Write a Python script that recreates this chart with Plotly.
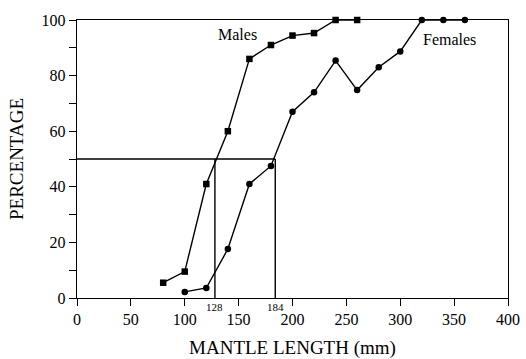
import plotly.graph_objects as go

# Data
males_x = [80, 100, 120, 140, 160, 180, 200, 220, 240, 260]
males_y = [5.5, 9.5, 41, 60, 86, 91, 94.4, 95.3, 100, 100]
females_x = [100, 120, 140, 160, 180, 200, 220, 240, 260, 280, 300, 320, 340, 360]
females_y = [2.2, 3.6, 17.6, 41, 47.5, 67, 74, 85.4, 74.8, 83, 88.7, 100, 100, 100]
half_level = 50
male_l50 = 128
female_l50 = 184
x_ticks = [0, 50, 100, 150, 200, 250, 300, 350, 400]
y_ticks = [0, 20, 40, 60, 80, 100]

font = "Liberation Serif"
fig = go.Figure()
fig.add_trace(go.Scatter(x=males_x, y=males_y, mode="lines+markers",
                         line=dict(color="black", width=1.4),
                         marker=dict(symbol="square", size=6.5, color="black"),
                         cliponaxis=False, showlegend=False))
fig.add_trace(go.Scatter(x=females_x, y=females_y, mode="lines+markers",
                         line=dict(color="black", width=1.4),
                         marker=dict(symbol="circle", size=6.5, color="black"),
                         cliponaxis=False, showlegend=False))

# 50% reference lines
fig.add_shape(type="line", x0=0, x1=female_l50, y0=half_level, y1=half_level,
              xref="x", yref="y", line=dict(color="black", width=1.4))
for v in (male_l50, female_l50):
    fig.add_shape(type="line", x0=v, x1=v, y0=0, y1=half_level,
                  xref="x", yref="y", line=dict(color="black", width=1.4))
    fig.add_annotation(x=v, y=0, xref="x", yref="y", text=str(v), showarrow=False,
                       yanchor="top", yshift=-1, font=dict(family=font, size=11, color="black"))

fig.add_annotation(x=149, y=94.7, xref="x", yref="y", text="Males", showarrow=False,
                   font=dict(family=font, size=16, color="black"))
fig.add_annotation(x=319, y=93, xref="x", yref="y", text="Females", showarrow=False,
                   xanchor="left", font=dict(family=font, size=16, color="black"))

fig.update_layout(
    width=526, height=359,
    margin=dict(l=77, r=18, t=20, b=61),
    plot_bgcolor="white", paper_bgcolor="white",
    font=dict(family=font, color="black", size=16),
)
fig.update_xaxes(range=[0, 400], tickvals=x_ticks, ticks="outside", ticklen=7,
                 tickwidth=1.2, tickcolor="black", showline=True, linecolor="black",
                 linewidth=1.4, mirror=True, showgrid=False, zeroline=False, automargin=False,
                 tickfont=dict(family=font, size=16),
                 title=dict(text="MANTLE LENGTH (mm)", font=dict(family=font, size=19), standoff=14))
fig.update_yaxes(range=[0, 100], tickvals=y_ticks, ticks="outside", ticklen=7,
                 tickwidth=1.2, tickcolor="black", showline=True, linecolor="black",
                 linewidth=1.4, mirror=True, showgrid=False, zeroline=False, automargin=False,
                 minor=dict(dtick=10, ticks="outside", ticklen=7, tickcolor="black", tickwidth=1.2, showgrid=False),
                 tickfont=dict(family=font, size=16),
                 title=dict(text="PERCENTAGE", font=dict(family=font, size=19), standoff=12))

fig.write_html("out.html")
